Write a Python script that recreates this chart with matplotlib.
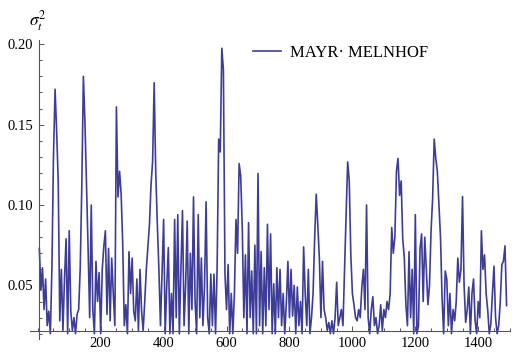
#!/usr/bin/env python
"""
Conditional variance of daily returns, MAYR-MELNHOF
"""

import numpy as np
import matplotlib
matplotlib.use("Agg")
import matplotlib.pyplot as plt
from matplotlib.ticker import FixedLocator, MultipleLocator

plt.rcParams['font.family'] = 'Liberation Serif'
plt.rcParams['mathtext.fontset'] = 'stix'

# sampling step of the series (trading days)
STEP = 5
SERIES_NAME = "MAYR\u00b7 MELNHOF"

# estimated variance, one value every STEP days (20 values per 100 days)
sigma2 = [
    0.073, 0.047, 0.061, 0.035, 0.054, 0.025, 0.034, 0.020, 0.061, 0.131,
    0.172, 0.146, 0.115, 0.028, 0.060, 0.022, 0.054, 0.079, 0.020, 0.084,
    0.034, 0.022, 0.030, 0.020, 0.032, 0.035, 0.061, 0.112, 0.180, 0.151,
    0.112, 0.073, 0.030, 0.100, 0.035, 0.020, 0.065, 0.040, 0.058, 0.020,
    0.060, 0.0745, 0.084, 0.032, 0.073, 0.028, 0.067, 0.045, 0.025, 0.161,
    0.105, 0.121, 0.107, 0.076, 0.025, 0.038, 0.020, 0.071, 0.045, 0.067,
    0.034, 0.028, 0.054, 0.022, 0.060, 0.034, 0.022, 0.040, 0.060, 0.0745,
    0.088, 0.1125, 0.127, 0.176, 0.120, 0.088, 0.060, 0.025, 0.059, 0.091,
    0.020, 0.050, 0.0735, 0.020, 0.045, 0.020, 0.091, 0.030, 0.094, 0.020,
    0.060, 0.0965, 0.025, 0.050, 0.090, 0.020, 0.070, 0.035, 0.105, 0.040,
    0.020, 0.094, 0.030, 0.067, 0.025, 0.050, 0.102, 0.030, 0.020, 0.057,
    0.025, 0.057, 0.020, 0.060, 0.141, 0.133, 0.1975, 0.184, 0.057, 0.035,
    0.063, 0.020, 0.045, 0.020, 0.045, 0.091, 0.070, 0.1258, 0.118, 0.086,
    0.030, 0.069, 0.020, 0.089, 0.030, 0.059, 0.020, 0.075, 0.020, 0.1196,
    0.025, 0.071, 0.020, 0.061, 0.025, 0.088, 0.035, 0.082, 0.020, 0.051,
    0.020, 0.061, 0.030, 0.060, 0.025, 0.045, 0.020, 0.039, 0.065, 0.030,
    0.060, 0.031, 0.050, 0.020, 0.049, 0.025, 0.040, 0.020, 0.074, 0.045,
    0.025, 0.060, 0.020, 0.030, 0.045, 0.079, 0.1067, 0.088, 0.067, 0.030,
    0.065, 0.035, 0.030, 0.022, 0.027, 0.020, 0.028, 0.020, 0.030, 0.052,
    0.025, 0.030, 0.035, 0.025, 0.060, 0.094, 0.1268, 0.115, 0.069, 0.045,
    0.038, 0.030, 0.028, 0.035, 0.030, 0.049, 0.060, 0.035, 0.100, 0.030,
    0.020, 0.035, 0.043, 0.025, 0.030, 0.020, 0.025, 0.038, 0.022, 0.035,
    0.030, 0.040, 0.035, 0.045, 0.086, 0.070, 0.080, 0.121, 0.129, 0.106,
    0.115, 0.079, 0.067, 0.038, 0.025, 0.071, 0.030, 0.060, 0.020, 0.094,
    0.020, 0.025, 0.073, 0.082, 0.040, 0.080, 0.060, 0.038, 0.050, 0.084,
    0.104, 0.141, 0.129, 0.121, 0.100, 0.080, 0.042, 0.020, 0.059, 0.054,
    0.025, 0.045, 0.020, 0.035, 0.028, 0.040, 0.067, 0.052, 0.060, 0.1053,
    0.050, 0.027, 0.035, 0.049, 0.020, 0.045, 0.054, 0.028, 0.020, 0.040,
    0.030, 0.084, 0.060, 0.069, 0.045, 0.035, 0.020, 0.026, 0.045, 0.062,
    0.030, 0.020, 0.025, 0.040, 0.063, 0.065, 0.0746, 0.0375,
]
days = np.arange(1, len(sigma2) + 1) * STEP

x_ticks = [200, 400, 600, 800, 1000, 1200, 1400]
y_ticks = [0.05, 0.10, 0.15, 0.20]

# where the axes cross
X_ORIGIN = 4
Y_ORIGIN = 0.0217

LINE_COLOR = '#3d3d99'
AXIS_COLOR = '#555555'

if __name__ == "__main__":

    fig = plt.figure(figsize=(5.23, 3.58), dpi=100)
    ax = fig.add_axes([0.0574, 0.0522, 0.9178, 0.836])

    ax.plot(days, sigma2, color=LINE_COLOR, lw=1.2, label=SERIES_NAME)

    ax.set_xlim(-24.6, 1501)
    ax.set_ylim(0.0165, 0.2026)

    # Mathematica style axes through the origin point
    for side in ['top', 'right']:
        ax.spines[side].set_visible(False)
    ax.spines['left'].set_position(('data', X_ORIGIN))
    ax.spines['bottom'].set_position(('data', Y_ORIGIN))
    for side in ['left', 'bottom']:
        ax.spines[side].set_color(AXIS_COLOR)
        ax.spines[side].set_linewidth(0.8)

    ax.xaxis.set_major_locator(FixedLocator(x_ticks))
    ax.xaxis.set_minor_locator(MultipleLocator(50))
    ax.yaxis.set_major_locator(FixedLocator(y_ticks))
    ax.yaxis.set_minor_locator(MultipleLocator(0.01))
    ax.set_xticklabels([str(t) for t in x_ticks])
    ax.set_yticklabels(['%.2f' % t for t in y_ticks])

    ax.tick_params(which='both', direction='in', color=AXIS_COLOR,
                   labelsize=10.5, width=0.7)
    ax.tick_params(which='major', length=3.5)
    ax.tick_params(which='minor', length=2)
    ax.tick_params(axis='x', pad=4.5)
    ax.tick_params(axis='y', pad=4)

    fig.text(38 / 523, 1 - 21 / 358, r'$\sigma_t^2$', fontsize=12.5,
             ha='center', va='center')

    ax.legend(loc='center left', bbox_to_anchor=(253 / 523, 1 - 53 / 358),
              bbox_transform=fig.transFigure, frameon=False, fontsize=12,
              borderpad=0, borderaxespad=0, handlelength=1.68,
              handletextpad=0.54)

    plt.savefig('out.png', dpi=100)
